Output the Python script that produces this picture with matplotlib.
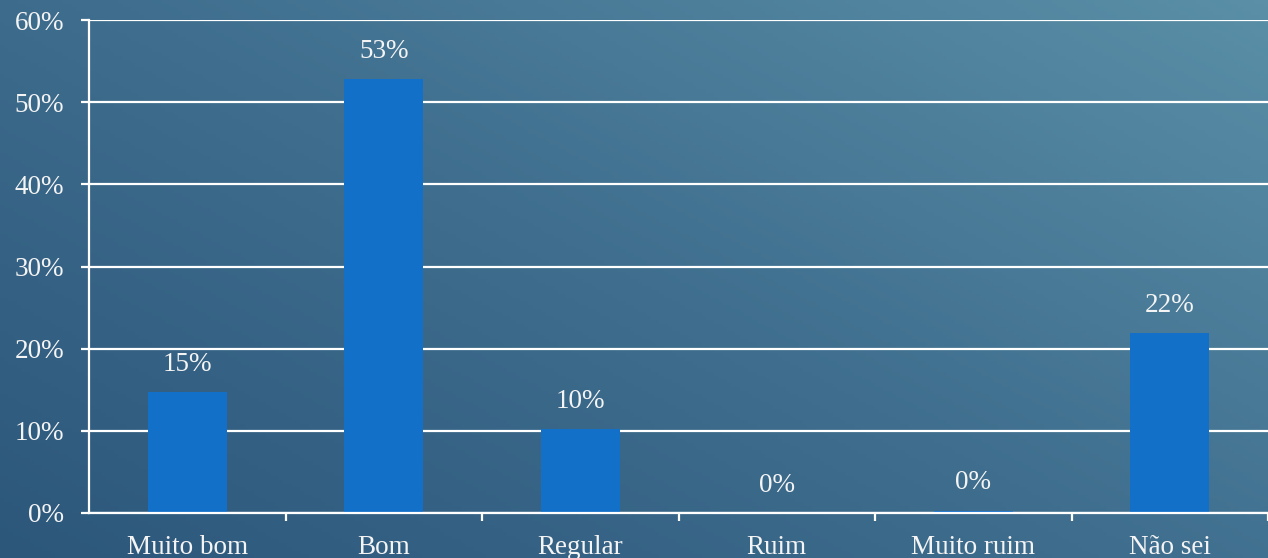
import numpy as np
import matplotlib
matplotlib.use("Agg")
import matplotlib.pyplot as plt
from matplotlib.colors import LinearSegmentedColormap

categories = ["Muito bom", "Bom", "Regular", "Ruim", "Muito ruim", "Não sei"]
values = [14.7, 52.8, 10.2, 0.0, 0.3, 21.9]
value_labels = ["15%", "53%", "10%", "0%", "0%", "22%"]
y_ticks = [0, 10, 20, 30, 40, 50, 60]
y_tick_labels = ["0%", "10%", "20%", "30%", "40%", "50%", "60%"]

plt.rcParams['font.family'] = ['Liberation Serif', 'DejaVu Serif']
W, H = 1268, 558
fig = plt.figure(figsize=(W / 100, H / 100), dpi=100)

# gradient background
bg = fig.add_axes([0, 0, 1, 1], zorder=-10)
xx, yy = np.meshgrid(np.linspace(0, 1, 300), np.linspace(0, 1, 150))
t = (xx * 0.55 + yy * 0.45)
cmap = LinearSegmentedColormap.from_list("bg", ["#2c577b", "#3f6e8e", "#5a8fa7"])
bg.imshow(t, cmap=cmap, origin="lower", extent=[0, 1, 0, 1], aspect="auto")
bg.set_axis_off()

ax = fig.add_axes([89 / W, 45 / H, 1 - 89 / W, (513 - 20) / H])
ax.set_facecolor("none")
txt = "#f4f4f4"
fs = 19.5
x = np.arange(len(categories))
bars = ax.bar(x, values, width=0.4, color="#1270c8", zorder=3)
for xi, v, lab in zip(x, values, value_labels):
    ax.annotate(lab, (xi, v), xytext=(0, 11), textcoords="offset points",
                ha="center", va="bottom", color=txt, fontsize=fs)

ax.set_xlim(-0.5, len(categories) - 0.5)
ax.set_ylim(0, 60)
ax.set_yticks(y_ticks)
ax.set_yticklabels(y_tick_labels)
ax.yaxis.grid(True, color="white", linewidth=1.6, zorder=1)
ax.set_axisbelow(True)

ax.set_xticks(np.arange(len(categories)) + 0.5)
ax.set_xticklabels([])
ax.set_xticks(x, minor=True)
ax.set_xticklabels(categories, minor=True)
ax.tick_params(axis="x", which="major", direction="out", length=6, width=1.6, color="white")
ax.tick_params(axis="x", which="minor", length=0, pad=16, labelsize=fs, labelcolor=txt)
ax.tick_params(axis="y", direction="out", length=6, width=1.6, color="white",
               pad=12, labelsize=fs, labelcolor=txt)

for s in ["top", "right"]:
    ax.spines[s].set_visible(False)
for s in ["left", "bottom"]:
    ax.spines[s].set_color("white")
    ax.spines[s].set_linewidth(1.6)
    ax.spines[s].set_zorder(4)

fig.savefig("out.png", dpi=100)
